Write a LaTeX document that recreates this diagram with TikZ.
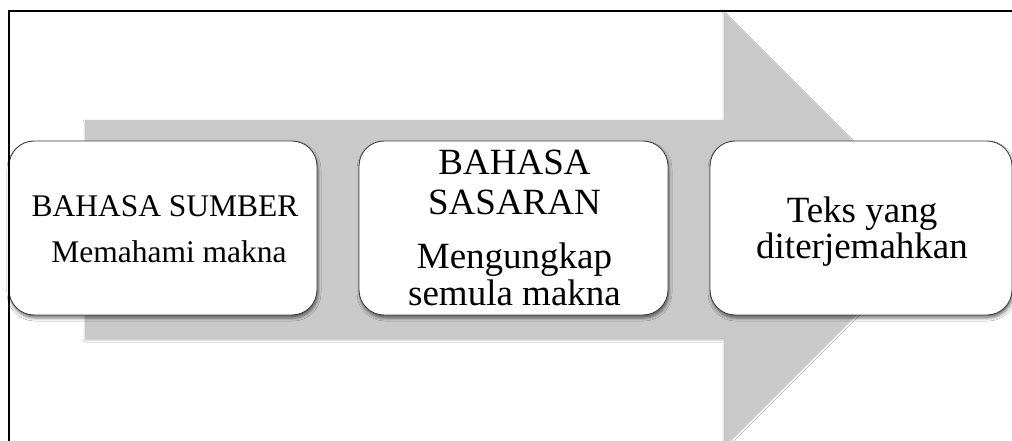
\documentclass[tikz,border=0pt]{standalone}
\usepackage{fontspec}
\setmainfont{Liberation Serif}
\usetikzlibrary{shadows.blur,calc}
\definecolor{arrowgray}{HTML}{C9C9C9}
\definecolor{boxline}{HTML}{404040}
\tikzset{
  bigarrow/.style={fill=arrowgray, draw=none,
    blur shadow={shadow xshift=0pt, shadow yshift=-2pt, shadow blur radius=2pt, shadow opacity=25}},
  stagebox/.style={draw=boxline, line width=0.9pt, fill=white, rounded corners=25pt,
    minimum height=174pt, inner sep=0pt,
    blur shadow={shadow xshift=1pt, shadow yshift=-3pt, shadow blur radius=3pt, shadow opacity=55}},
  smalltxt/.style={anchor=base, inner sep=0pt, font=\fontsize{31.5}{34}\selectfont},
  bigtxt/.style={anchor=base, inner sep=0pt, font=\fontsize{37}{40}\selectfont},
  frameline/.style={draw=black, line width=2.6pt}
}
\begin{document}
\begin{tikzpicture}[x=1pt,y=-1pt]
\useasboundingbox (0,0) rectangle (1012,441);
\clip (0,0) rectangle (1012,441);
\fill[white] (0,0) rectangle (1012,441);
% big background arrow
\path[bigarrow] (85,120) -- (724,120) -- (724,12) -- (941,229) -- (724,446) -- (724,338) -- (85,338) -- cycle;
% boxes
\node[stagebox, minimum width=308pt] (b1) at (163,228) {};
\node[stagebox, minimum width=309pt] (b2) at (513.5,228) {};
\node[stagebox, minimum width=302pt] (b3) at (861,228) {};
% texts
\node[smalltxt] (t11) at ($(b1.center)+(2,-12)$) {BAHASA SUMBER};
\node[smalltxt] (t12) at ($(b1.center)+(6,34)$) {Memahami makna};
\node[bigtxt] (t21) at ($(b2.center)+(1,-53)$) {BAHASA};
\node[bigtxt] (t22) at ($(b2.center)+(1,-14)$) {SASARAN};
\node[bigtxt] (t23) at ($(b2.center)+(1,40)$) {Mengungkap};
\node[bigtxt] (t24) at ($(b2.center)+(1,77)$) {semula makna};
\node[bigtxt] (t31) at ($(b3.center)+(1,-6)$) {Teks yang};
\node[bigtxt] (t32) at ($(b3.center)+(1,30)$) {diterjemahkan};
% outer frame (left and top visible)
\draw[frameline] (9,450) -- (9,11) -- (1020,11);
\end{tikzpicture}
\end{document}
